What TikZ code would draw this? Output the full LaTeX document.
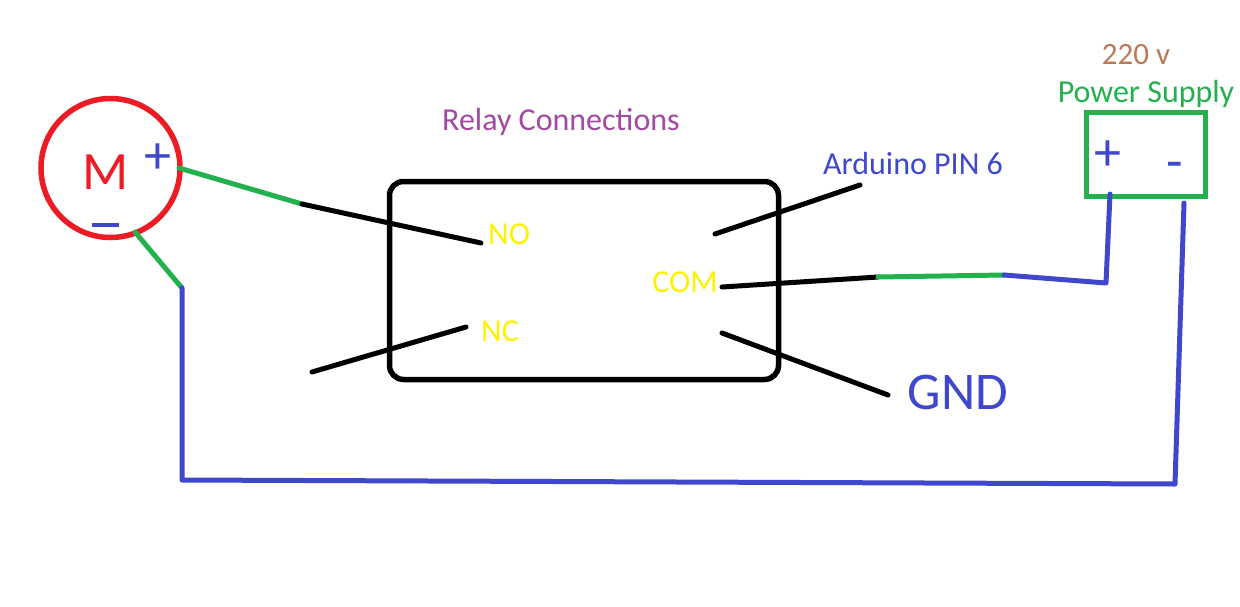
\documentclass[tikz,border=0pt]{standalone}
\usepackage{fontspec}
\setmainfont{Carlito}
\definecolor{wgreen}{HTML}{22B14C}
\definecolor{wblue}{HTML}{3F48CC}
\definecolor{wred}{HTML}{ED1C24}
\definecolor{wyel}{HTML}{FFF200}
\definecolor{wpur}{HTML}{A349A4}
\definecolor{wbrn}{HTML}{B97A57}
\tikzset{x=1pt,y=-1pt,
 wire/.style={line width=5pt,line cap=round,line join=round},
 lbl/.style={inner sep=0pt,anchor=center}}
\begin{document}
\begin{tikzpicture}
\useasboundingbox (0,0) rectangle (1240,606);
\fill[white] (0,0) rectangle (1240,606);
% coordinates
\coordinate (m1) at (179,168); \coordinate (m2) at (302,204); \coordinate (no) at (481,243);
\coordinate (m3) at (135,232); \coordinate (c1) at (182,288); \coordinate (c2) at (182,480);
\coordinate (c3) at (1175,484); \coordinate (c4) at (1184,203);
\coordinate (com) at (722,287); \coordinate (g1) at (878,277); \coordinate (g2) at (1004,275);
\coordinate (c5) at (1106,283); \coordinate (c6) at (1110,194);
% motor
\node[circle,draw=wred,line width=5.5pt,minimum size=139pt,inner sep=0pt] (motor) at (110.5,168) {};
\node[lbl,text=wred,font=\fontsize{54}{54}\selectfont] (mm) at (106,172) {M};
\node[lbl,text=wblue,font=\fontsize{54}{54}\selectfont] (plus) at (158,159) {+};
\coordinate (ma) at (92,225); \coordinate (mb) at (119,225);
\draw[wblue,line width=3.5pt] (ma) -- (mb);
% relay
\node[draw=black,line width=5.5pt,rounded corners=14pt,minimum width=389pt,minimum height=198pt,inner sep=0pt] (relay) at (584,280.5) {};
\node[lbl,text=wpur,font=\fontsize{32}{32}\selectfont] (title) at (561,122) {Relay Connections};
\node[lbl,text=wyel,font=\fontsize{32}{32}\selectfont] (tno) at (509,234) {NO};
\node[lbl,text=wyel,font=\fontsize{32}{32}\selectfont] (tnc) at (500,331) {NC};
\node[lbl,text=wyel,font=\fontsize{32}{32}\selectfont] (tcom) at (685,282) {COM};
\node[lbl,text=wblue,font=\fontsize{32}{32}\selectfont] (pin) at (913,164) {Arduino PIN 6};
\node[lbl,text=wblue,font=\fontsize{53}{53}\selectfont] (gnd) at (958,392) {GND};
\node[lbl,text=wbrn,font=\fontsize{31}{31}\selectfont] (v) at (1136,55) {220 v};
\node[lbl,text=wgreen,font=\fontsize{32}{32}\selectfont] (ps) at (1146,94) {Power Supply};
% supply
\node[draw=wgreen,line width=5.5pt,minimum width=119pt,minimum height=84pt,inner sep=0pt] (sup) at (1146,154.5) {};
\node[lbl,text=wblue,font=\fontsize{54}{54}\selectfont] (sp) at (1108,156) {+};
\node[lbl,text=wblue,font=\fontsize{54}{54}\selectfont] (sm) at (1175,171) {-};
% wires
\draw[wire,wgreen] (m1) -- (m2);
\draw[wire,black] (m2) -- (no);
\draw[wire,wgreen] (m3) -- (c1);
\draw[wire,wblue] (c1) -- (c2) -- (c3) -- (c4);
\draw[wire,black] (715,234) coordinate (a1) -- (860,185) coordinate (a2);
\draw[wire,black] (312,372) coordinate (n1) -- (466,327) coordinate (n2);
\draw[wire,black] (722,333) coordinate (b1) -- (888,395) coordinate (b2);
\draw[wire,black] (com) -- (g1);
\draw[wire,wgreen] (g1) -- (g2);
\draw[wire,wblue] (g2) -- (c5) -- (c6);
\end{tikzpicture}
\end{document}
